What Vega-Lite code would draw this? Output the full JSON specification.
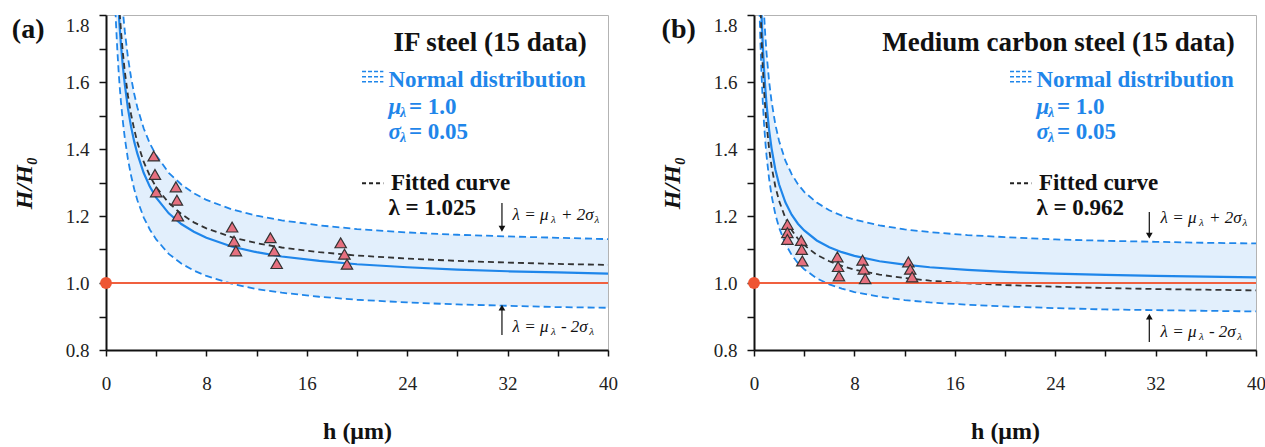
{
  "$schema": "https://vega.github.io/schema/vega-lite/v6.json",
  "background": "white",
  "padding": {"left": 11, "top": 13, "right": 5, "bottom": 2},
  "bounds": "flush",
  "spacing": 146,
  "config": {
    "font": "Liberation Serif, Times New Roman, serif",
    "text": {"font": "Liberation Serif, Times New Roman, serif"},
    "view": {"stroke": "#b3b3b3", "strokeWidth": 1},
    "axis": {
      "domainColor": "#111", "domainWidth": 2, "tickColor": "#111", "tickWidth": 1.5,
      "labelFont": "Liberation Serif, Times New Roman, serif", "labelFontSize": 19, "labelColor": "#222",
      "titleFont": "Liberation Serif, Times New Roman, serif", "titleFontSize": 24, "titleFontWeight": "bold", "titleColor": "#111",
      "grid": false, "labelOverlap": false
    }
  },
  "datasets": {
    "curves": [
      {"p":"a","h":0.6,"lo":1.978,"mu":2.198,"hi":2.418,"fit":2.253},
      {"p":"a","h":0.7,"lo":1.863,"mu":2.070,"hi":2.277,"fit":2.122},
      {"p":"a","h":0.8,"lo":1.772,"mu":1.969,"hi":2.165,"fit":2.018},
      {"p":"a","h":0.9,"lo":1.697,"mu":1.886,"hi":2.074,"fit":1.933},
      {"p":"a","h":1.0,"lo":1.635,"mu":1.817,"hi":1.998,"fit":1.862},
      {"p":"a","h":1.1,"lo":1.582,"mu":1.758,"hi":1.934,"fit":1.802},
      {"p":"a","h":1.2,"lo":1.537,"mu":1.708,"hi":1.879,"fit":1.750},
      {"p":"a","h":1.35,"lo":1.480,"mu":1.644,"hi":1.809,"fit":1.685},
      {"p":"a","h":1.5,"lo":1.432,"mu":1.592,"hi":1.751,"fit":1.631},
      {"p":"a","h":1.75,"lo":1.369,"mu":1.521,"hi":1.673,"fit":1.559},
      {"p":"a","h":2.0,"lo":1.320,"mu":1.466,"hi":1.613,"fit":1.503},
      {"p":"a","h":2.25,"lo":1.280,"mu":1.422,"hi":1.564,"fit":1.458},
      {"p":"a","h":2.5,"lo":1.247,"mu":1.386,"hi":1.524,"fit":1.420},
      {"p":"a","h":3.0,"lo":1.196,"mu":1.329,"hi":1.462,"fit":1.362},
      {"p":"a","h":3.5,"lo":1.159,"mu":1.287,"hi":1.416,"fit":1.319},
      {"p":"a","h":4,"lo":1.130,"mu":1.255,"hi":1.381,"fit":1.286},
      {"p":"a","h":5,"lo":1.087,"mu":1.208,"hi":1.329,"fit":1.239},
      {"p":"a","h":6,"lo":1.058,"mu":1.176,"hi":1.294,"fit":1.206},
      {"p":"a","h":7,"lo":1.037,"mu":1.153,"hi":1.268,"fit":1.181},
      {"p":"a","h":8,"lo":1.021,"mu":1.135,"hi":1.248,"fit":1.163},
      {"p":"a","h":10,"lo":0.998,"mu":1.109,"hi":1.220,"fit":1.137},
      {"p":"a","h":12,"lo":0.982,"mu":1.092,"hi":1.201,"fit":1.119},
      {"p":"a","h":14,"lo":0.971,"mu":1.079,"hi":1.187,"fit":1.106},
      {"p":"a","h":17,"lo":0.959,"mu":1.066,"hi":1.172,"fit":1.092},
      {"p":"a","h":20,"lo":0.950,"mu":1.056,"hi":1.161,"fit":1.082},
      {"p":"a","h":24,"lo":0.942,"mu":1.047,"hi":1.151,"fit":1.073},
      {"p":"a","h":28,"lo":0.936,"mu":1.040,"hi":1.144,"fit":1.066},
      {"p":"a","h":32,"lo":0.932,"mu":1.035,"hi":1.139,"fit":1.061},
      {"p":"a","h":36,"lo":0.928,"mu":1.032,"hi":1.135,"fit":1.057},
      {"p":"a","h":40,"lo":0.926,"mu":1.028,"hi":1.131,"fit":1.054},
      {"p":"b","h":0.3,"lo":2.111,"mu":2.345,"hi":2.580,"fit":2.256},
      {"p":"b","h":0.35,"lo":1.984,"mu":2.204,"hi":2.424,"fit":2.120},
      {"p":"b","h":0.4,"lo":1.883,"mu":2.092,"hi":2.301,"fit":2.012},
      {"p":"b","h":0.45,"lo":1.800,"mu":2.000,"hi":2.200,"fit":1.924},
      {"p":"b","h":0.5,"lo":1.731,"mu":1.924,"hi":2.116,"fit":1.850},
      {"p":"b","h":0.6,"lo":1.623,"mu":1.803,"hi":1.983,"fit":1.734},
      {"p":"b","h":0.7,"lo":1.540,"mu":1.711,"hi":1.882,"fit":1.646},
      {"p":"b","h":0.8,"lo":1.475,"mu":1.639,"hi":1.803,"fit":1.577},
      {"p":"b","h":0.9,"lo":1.423,"mu":1.581,"hi":1.739,"fit":1.521},
      {"p":"b","h":1.0,"lo":1.380,"mu":1.533,"hi":1.686,"fit":1.475},
      {"p":"b","h":1.2,"lo":1.312,"mu":1.458,"hi":1.603,"fit":1.402},
      {"p":"b","h":1.4,"lo":1.261,"mu":1.402,"hi":1.542,"fit":1.348},
      {"p":"b","h":1.7,"lo":1.205,"mu":1.339,"hi":1.473,"fit":1.288},
      {"p":"b","h":2.0,"lo":1.165,"mu":1.294,"hi":1.424,"fit":1.245},
      {"p":"b","h":2.5,"lo":1.117,"mu":1.241,"hi":1.365,"fit":1.194},
      {"p":"b","h":3.0,"lo":1.084,"mu":1.204,"hi":1.325,"fit":1.158},
      {"p":"b","h":3.5,"lo":1.059,"mu":1.177,"hi":1.295,"fit":1.132},
      {"p":"b","h":4,"lo":1.041,"mu":1.157,"hi":1.272,"fit":1.113},
      {"p":"b","h":5,"lo":1.014,"mu":1.127,"hi":1.240,"fit":1.084},
      {"p":"b","h":6,"lo":0.996,"mu":1.107,"hi":1.217,"fit":1.065},
      {"p":"b","h":7,"lo":0.983,"mu":1.092,"hi":1.201,"fit":1.051},
      {"p":"b","h":8,"lo":0.973,"mu":1.081,"hi":1.189,"fit":1.040},
      {"p":"b","h":10,"lo":0.959,"mu":1.065,"hi":1.172,"fit":1.025},
      {"p":"b","h":12,"lo":0.949,"mu":1.055,"hi":1.160,"fit":1.015},
      {"p":"b","h":14,"lo":0.942,"mu":1.047,"hi":1.152,"fit":1.007},
      {"p":"b","h":17,"lo":0.935,"mu":1.039,"hi":1.143,"fit":0.999},
      {"p":"b","h":20,"lo":0.930,"mu":1.033,"hi":1.137,"fit":0.994},
      {"p":"b","h":24,"lo":0.925,"mu":1.028,"hi":1.130,"fit":0.989},
      {"p":"b","h":28,"lo":0.921,"mu":1.024,"hi":1.126,"fit":0.985},
      {"p":"b","h":32,"lo":0.919,"mu":1.021,"hi":1.123,"fit":0.982},
      {"p":"b","h":36,"lo":0.917,"mu":1.019,"hi":1.120,"fit":0.980},
      {"p":"b","h":40,"lo":0.915,"mu":1.017,"hi":1.118,"fit":0.978}
    ],
    "pts": [
      {"p":"a","h":3.8,"v":1.379},{"p":"a","h":3.9,"v":1.324},{"p":"a","h":4.0,"v":1.272},
      {"p":"a","h":5.57,"v":1.287},{"p":"a","h":5.65,"v":1.247},{"p":"a","h":5.73,"v":1.2},
      {"p":"a","h":10.05,"v":1.167},{"p":"a","h":10.2,"v":1.125},{"p":"a","h":10.35,"v":1.096},
      {"p":"a","h":13.1,"v":1.135},{"p":"a","h":13.4,"v":1.096},{"p":"a","h":13.6,"v":1.058},
      {"p":"a","h":18.7,"v":1.12},{"p":"a","h":19.0,"v":1.086},{"p":"a","h":19.2,"v":1.056},
      {"p":"b","h":2.66,"v":1.175},{"p":"b","h":2.66,"v":1.150},{"p":"b","h":2.66,"v":1.130},
      {"p":"b","h":3.76,"v":1.127},{"p":"b","h":3.8,"v":1.1},{"p":"b","h":3.85,"v":1.066},
      {"p":"b","h":6.64,"v":1.078},{"p":"b","h":6.7,"v":1.049},{"p":"b","h":6.77,"v":1.021},
      {"p":"b","h":8.65,"v":1.068},{"p":"b","h":8.75,"v":1.041},{"p":"b","h":8.86,"v":1.013},
      {"p":"b","h":12.3,"v":1.063},{"p":"b","h":12.45,"v":1.041},{"p":"b","h":12.6,"v":1.018}
    ],
    "ref": [
      {"p":"a","h":0,"h2":40,"v":1.0},
      {"p":"b","h":0,"h2":40,"v":1.0}
    ],
    "icons": [
      {"p":"a","k":"blue","h":20.4,"h2":22.1,"v":1.631},
      {"p":"a","k":"blue","h":20.4,"h2":22.1,"v":1.616},
      {"p":"a","k":"blue","h":20.4,"h2":22.1,"v":1.601},
      {"p":"a","k":"black","h":20.4,"h2":22.1,"v":1.298},
      {"p":"b","k":"blue","h":20.4,"h2":22.1,"v":1.631},
      {"p":"b","k":"blue","h":20.4,"h2":22.1,"v":1.616},
      {"p":"b","k":"blue","h":20.4,"h2":22.1,"v":1.601},
      {"p":"b","k":"black","h":20.4,"h2":22.1,"v":1.298}
    ],
    "arrows": [
      {"p":"a","h":31.55,"v":1.239,"v2":1.162},
      {"p":"a","h":31.55,"v":0.845,"v2":0.9265},
      {"p":"b","h":31.5,"v":1.212,"v2":1.1415},
      {"p":"b","h":31.5,"v":0.824,"v2":0.8995}
    ],
    "heads": [
      {"p":"a","dir":"down","h":31.55,"v":1.162},
      {"p":"a","dir":"up","h":31.55,"v":0.9265},
      {"p":"b","dir":"down","h":31.5,"v":1.1415},
      {"p":"b","dir":"up","h":31.5,"v":0.8995}
    ],
    "ann": [
      {"p":"a","k":"label","h":-6.2,"v":1.755,"t":"(a)"},
      {"p":"a","k":"title","h":38.3,"v":1.7155,"t":"IF steel (15 data)"},
      {"p":"a","k":"blue","h":22.5,"v":1.605,"t":"Normal distribution"},
      {"p":"a","k":"blueI","h":22.5,"v":1.525,"t":"μ"},
      {"p":"a","k":"blueSub","h":23.43,"v":1.507,"t":"λ"},
      {"p":"a","k":"blue","h":24.14,"v":1.525,"t":"= 1.0"},
      {"p":"a","k":"blueI","h":22.5,"v":1.452,"t":"σ"},
      {"p":"a","k":"blueSub","h":23.43,"v":1.434,"t":"λ"},
      {"p":"a","k":"blue","h":24.14,"v":1.452,"t":"= 0.05"},
      {"p":"a","k":"black","h":22.7,"v":1.298,"t":"Fitted curve"},
      {"p":"a","k":"black","h":22.5,"v":1.224,"t":"λ = 1.025"},
      {"p":"a","k":"ann","h":32.4,"v":1.203,"t":"λ = μ"},
      {"p":"a","k":"annSub","h":35.46,"v":1.188,"t":"λ"},
      {"p":"a","k":"ann","h":36.25,"v":1.203,"t":"+ 2σ"},
      {"p":"a","k":"annSub","h":38.93,"v":1.188,"t":"λ"},
      {"p":"a","k":"ann","h":32.4,"v":0.869,"t":"λ = μ"},
      {"p":"a","k":"annSub","h":35.46,"v":0.854,"t":"λ"},
      {"p":"a","k":"ann","h":36.25,"v":0.869,"t":"- 2σ"},
      {"p":"a","k":"annSub","h":38.5,"v":0.854,"t":"λ"},
      {"p":"b","k":"label","h":-6.0,"v":1.755,"t":"(b)"},
      {"p":"b","k":"title","h":38.3,"v":1.7155,"t":"Medium carbon steel (15 data)"},
      {"p":"b","k":"blue","h":22.5,"v":1.605,"t":"Normal distribution"},
      {"p":"b","k":"blueI","h":22.5,"v":1.525,"t":"μ"},
      {"p":"b","k":"blueSub","h":23.43,"v":1.507,"t":"λ"},
      {"p":"b","k":"blue","h":24.14,"v":1.525,"t":"= 1.0"},
      {"p":"b","k":"blueI","h":22.5,"v":1.452,"t":"σ"},
      {"p":"b","k":"blueSub","h":23.43,"v":1.434,"t":"λ"},
      {"p":"b","k":"blue","h":24.14,"v":1.452,"t":"= 0.05"},
      {"p":"b","k":"black","h":22.7,"v":1.298,"t":"Fitted curve"},
      {"p":"b","k":"black","h":22.5,"v":1.223,"t":"λ = 0.962"},
      {"p":"b","k":"ann","h":32.4,"v":1.194,"t":"λ = μ"},
      {"p":"b","k":"annSub","h":35.46,"v":1.179,"t":"λ"},
      {"p":"b","k":"ann","h":36.25,"v":1.194,"t":"+ 2σ"},
      {"p":"b","k":"annSub","h":38.93,"v":1.179,"t":"λ"},
      {"p":"b","k":"ann","h":32.4,"v":0.854,"t":"λ = μ"},
      {"p":"b","k":"annSub","h":35.46,"v":0.839,"t":"λ"},
      {"p":"b","k":"ann","h":36.25,"v":0.854,"t":"- 2σ"},
      {"p":"b","k":"annSub","h":38.5,"v":0.839,"t":"λ"}
    ]
  },
  "hconcat": [
    {
      "width": 502, "height": 335,
      "encoding": {
        "x": {"field": "h", "type": "quantitative", "scale": {"domain": [0, 40], "nice": false}, "title": "h (μm)",
          "axis": {"values": [0,4,8,12,16,20,24,28,32,36,40], "labelExpr": "datum.value % 8 === 0 ? datum.label : ''", "labelFlush": false, "tickSize": 6, "labelPadding": 18, "titlePadding": 26}},
        "y": {"field": "v", "type": "quantitative", "scale": {"domain": [0.8, 1.8], "nice": false, "zero": false}, "title": "H/H₀",
          "axis": {"values": [0.8,0.9,1.0,1.1,1.2,1.3,1.4,1.5,1.6,1.7,1.8], "labelExpr": "round(datum.value*10) % 2 === 0 ? format(datum.value, '.1f') : ''", "tickSize": 7, "labelPadding": 10, "titlePadding": 29, "titleFontStyle": "italic",
            "labelOffset": {"condition": {"test": "datum.value > 1.75", "value": 10}, "value": 0}}}
      },
      "layer": [
        {"data": {"name": "curves"}, "transform": [{"filter": "datum.p == 'a'"}], "mark": {"type": "area", "clip": true, "fill": "#e2effc", "opacity": 1},
          "encoding": {"y": {"field": "lo", "type": "quantitative", "scale": {"domain": [0.8, 1.8], "nice": false, "zero": false}, "title": "H/H₀"}, "y2": {"field": "hi"}}},
        {"data": {"name": "curves"}, "transform": [{"filter": "datum.p == 'a'"}], "mark": {"type": "line", "clip": true, "stroke": "#1f86ea", "strokeWidth": 1.8, "strokeDash": [7, 4]},
          "encoding": {"y": {"field": "lo", "type": "quantitative", "scale": {"domain": [0.8, 1.8], "nice": false, "zero": false}, "title": "H/H₀"}}},
        {"data": {"name": "curves"}, "transform": [{"filter": "datum.p == 'a'"}], "mark": {"type": "line", "clip": true, "stroke": "#1f86ea", "strokeWidth": 1.8, "strokeDash": [7, 4]},
          "encoding": {"y": {"field": "hi", "type": "quantitative", "scale": {"domain": [0.8, 1.8], "nice": false, "zero": false}, "title": "H/H₀"}}},
        {"data": {"name": "curves"}, "transform": [{"filter": "datum.p == 'a'"}], "mark": {"type": "line", "clip": true, "stroke": "#1f86ea", "strokeWidth": 2.2},
          "encoding": {"y": {"field": "mu", "type": "quantitative", "scale": {"domain": [0.8, 1.8], "nice": false, "zero": false}, "title": "H/H₀"}}},
        {"data": {"name": "curves"}, "transform": [{"filter": "datum.p == 'a'"}], "mark": {"type": "line", "clip": true, "stroke": "#333333", "strokeWidth": 1.8, "strokeDash": [6, 4]},
          "encoding": {"y": {"field": "fit", "type": "quantitative", "scale": {"domain": [0.8, 1.8], "nice": false, "zero": false}, "title": "H/H₀"}}},
        {"data": {"name": "ref"}, "transform": [{"filter": "datum.p == 'a'"}], "mark": {"type": "rule", "stroke": "#f0603f", "strokeWidth": 2},
          "encoding": {"x2": {"field": "h2"}}},
        {"data": {"name": "pts"}, "transform": [{"filter": "datum.p == 'a'"}], "mark": {"type": "point", "shape": "triangle-up", "filled": true, "size": 130, "fill": "#e6707f", "stroke": "#333333", "strokeWidth": 1.2, "opacity": 1}},
        {"data": {"name": "ref"}, "transform": [{"filter": "datum.p == 'a'"}], "mark": {"type": "point", "shape": "circle", "filled": true, "size": 140, "fill": "#ee5533", "opacity": 1}},
        {"data": {"name": "icons"}, "transform": [{"filter": "datum.p == 'a' && datum.k == 'blue'"}], "mark": {"type": "rule", "stroke": "#1f86ea", "strokeWidth": 1.5, "strokeDash": [4, 2]},
          "encoding": {"x2": {"field": "h2"}}},
        {"data": {"name": "icons"}, "transform": [{"filter": "datum.p == 'a' && datum.k == 'black'"}], "mark": {"type": "rule", "stroke": "#222222", "strokeWidth": 2, "strokeDash": [4, 3]},
          "encoding": {"x2": {"field": "h2"}}},
        {"data": {"name": "arrows"}, "transform": [{"filter": "datum.p == 'a'"}], "mark": {"type": "rule", "stroke": "#222222", "strokeWidth": 1.3},
          "encoding": {"y2": {"field": "v2"}}},
        {"data": {"name": "heads"}, "transform": [{"filter": "datum.p == 'a' && datum.dir == 'down'"}], "mark": {"type": "point", "shape": "triangle-down", "filled": true, "size": 45, "fill": "#111111", "opacity": 1}},
        {"data": {"name": "heads"}, "transform": [{"filter": "datum.p == 'a' && datum.dir == 'up'"}], "mark": {"type": "point", "shape": "triangle-up", "filled": true, "size": 45, "fill": "#111111", "opacity": 1}},
        {"data": {"name": "ann"}, "transform": [{"filter": "datum.p == 'a' && datum.k == 'label'"}], "mark": {"type": "text", "font": "Liberation Serif, Times New Roman, serif", "align": "center", "baseline": "middle", "fontSize": 28, "fontWeight": "bold", "fill": "#111111"}, "encoding": {"text": {"field": "t"}}},
        {"data": {"name": "ann"}, "transform": [{"filter": "datum.p == 'a' && datum.k == 'title'"}], "mark": {"type": "text", "font": "Liberation Serif, Times New Roman, serif", "align": "right", "baseline": "middle", "fontSize": 27, "fontWeight": "bold", "fill": "#111111"}, "encoding": {"text": {"field": "t"}}},
        {"data": {"name": "ann"}, "transform": [{"filter": "datum.p == 'a' && datum.k == 'blue'"}], "mark": {"type": "text", "font": "Liberation Serif, Times New Roman, serif", "align": "left", "baseline": "middle", "fontSize": 23, "fontWeight": "bold", "fill": "#1f86ea"}, "encoding": {"text": {"field": "t"}}},
        {"data": {"name": "ann"}, "transform": [{"filter": "datum.p == 'a' && datum.k == 'blueI'"}], "mark": {"type": "text", "font": "Liberation Serif, Times New Roman, serif", "align": "left", "baseline": "middle", "fontSize": 23, "fontWeight": "bold", "fontStyle": "italic", "fill": "#1f86ea"}, "encoding": {"text": {"field": "t"}}},
        {"data": {"name": "ann"}, "transform": [{"filter": "datum.p == 'a' && datum.k == 'blueSub'"}], "mark": {"type": "text", "font": "Liberation Serif, Times New Roman, serif", "align": "left", "baseline": "middle", "fontSize": 14, "fontWeight": "bold", "fontStyle": "italic", "fill": "#1f86ea"}, "encoding": {"text": {"field": "t"}}},
        {"data": {"name": "ann"}, "transform": [{"filter": "datum.p == 'a' && datum.k == 'black'"}], "mark": {"type": "text", "font": "Liberation Serif, Times New Roman, serif", "align": "left", "baseline": "middle", "fontSize": 23, "fontWeight": "bold", "fill": "#111111"}, "encoding": {"text": {"field": "t"}}},
        {"data": {"name": "ann"}, "transform": [{"filter": "datum.p == 'a' && datum.k == 'ann'"}], "mark": {"type": "text", "font": "Liberation Serif, Times New Roman, serif", "align": "left", "baseline": "middle", "fontSize": 17, "fontStyle": "italic", "fill": "#111111"}, "encoding": {"text": {"field": "t"}}},
        {"data": {"name": "ann"}, "transform": [{"filter": "datum.p == 'a' && datum.k == 'annSub'"}], "mark": {"type": "text", "font": "Liberation Serif, Times New Roman, serif", "align": "left", "baseline": "middle", "fontSize": 11, "fontStyle": "italic", "fill": "#111111"}, "encoding": {"text": {"field": "t"}}}
      ]
    },
    {
      "width": 502, "height": 335,
      "encoding": {
        "x": {"field": "h", "type": "quantitative", "scale": {"domain": [0, 40], "nice": false}, "title": "h (μm)",
          "axis": {"values": [0,4,8,12,16,20,24,28,32,36,40], "labelExpr": "datum.value % 8 === 0 ? datum.label : ''", "labelFlush": false, "tickSize": 6, "labelPadding": 18, "titlePadding": 26}},
        "y": {"field": "v", "type": "quantitative", "scale": {"domain": [0.8, 1.8], "nice": false, "zero": false}, "title": "H/H₀",
          "axis": {"values": [0.8,0.9,1.0,1.1,1.2,1.3,1.4,1.5,1.6,1.7,1.8], "labelExpr": "round(datum.value*10) % 2 === 0 ? format(datum.value, '.1f') : ''", "tickSize": 7, "labelPadding": 10, "titlePadding": 29, "titleFontStyle": "italic",
            "labelOffset": {"condition": {"test": "datum.value > 1.75", "value": 10}, "value": 0}}}
      },
      "layer": [
        {"data": {"name": "curves"}, "transform": [{"filter": "datum.p == 'b'"}], "mark": {"type": "area", "clip": true, "fill": "#e2effc", "opacity": 1},
          "encoding": {"y": {"field": "lo", "type": "quantitative", "scale": {"domain": [0.8, 1.8], "nice": false, "zero": false}, "title": "H/H₀"}, "y2": {"field": "hi"}}},
        {"data": {"name": "curves"}, "transform": [{"filter": "datum.p == 'b'"}], "mark": {"type": "line", "clip": true, "stroke": "#1f86ea", "strokeWidth": 1.8, "strokeDash": [7, 4]},
          "encoding": {"y": {"field": "lo", "type": "quantitative", "scale": {"domain": [0.8, 1.8], "nice": false, "zero": false}, "title": "H/H₀"}}},
        {"data": {"name": "curves"}, "transform": [{"filter": "datum.p == 'b'"}], "mark": {"type": "line", "clip": true, "stroke": "#1f86ea", "strokeWidth": 1.8, "strokeDash": [7, 4]},
          "encoding": {"y": {"field": "hi", "type": "quantitative", "scale": {"domain": [0.8, 1.8], "nice": false, "zero": false}, "title": "H/H₀"}}},
        {"data": {"name": "curves"}, "transform": [{"filter": "datum.p == 'b'"}], "mark": {"type": "line", "clip": true, "stroke": "#1f86ea", "strokeWidth": 2.2},
          "encoding": {"y": {"field": "mu", "type": "quantitative", "scale": {"domain": [0.8, 1.8], "nice": false, "zero": false}, "title": "H/H₀"}}},
        {"data": {"name": "curves"}, "transform": [{"filter": "datum.p == 'b'"}], "mark": {"type": "line", "clip": true, "stroke": "#333333", "strokeWidth": 1.8, "strokeDash": [6, 4]},
          "encoding": {"y": {"field": "fit", "type": "quantitative", "scale": {"domain": [0.8, 1.8], "nice": false, "zero": false}, "title": "H/H₀"}}},
        {"data": {"name": "ref"}, "transform": [{"filter": "datum.p == 'b'"}], "mark": {"type": "rule", "stroke": "#f0603f", "strokeWidth": 2},
          "encoding": {"x2": {"field": "h2"}}},
        {"data": {"name": "pts"}, "transform": [{"filter": "datum.p == 'b'"}], "mark": {"type": "point", "shape": "triangle-up", "filled": true, "size": 130, "fill": "#e6707f", "stroke": "#333333", "strokeWidth": 1.2, "opacity": 1}},
        {"data": {"name": "ref"}, "transform": [{"filter": "datum.p == 'b'"}], "mark": {"type": "point", "shape": "circle", "filled": true, "size": 140, "fill": "#ee5533", "opacity": 1}},
        {"data": {"name": "icons"}, "transform": [{"filter": "datum.p == 'b' && datum.k == 'blue'"}], "mark": {"type": "rule", "stroke": "#1f86ea", "strokeWidth": 1.5, "strokeDash": [4, 2]},
          "encoding": {"x2": {"field": "h2"}}},
        {"data": {"name": "icons"}, "transform": [{"filter": "datum.p == 'b' && datum.k == 'black'"}], "mark": {"type": "rule", "stroke": "#222222", "strokeWidth": 2, "strokeDash": [4, 3]},
          "encoding": {"x2": {"field": "h2"}}},
        {"data": {"name": "arrows"}, "transform": [{"filter": "datum.p == 'b'"}], "mark": {"type": "rule", "stroke": "#222222", "strokeWidth": 1.3},
          "encoding": {"y2": {"field": "v2"}}},
        {"data": {"name": "heads"}, "transform": [{"filter": "datum.p == 'b' && datum.dir == 'down'"}], "mark": {"type": "point", "shape": "triangle-down", "filled": true, "size": 45, "fill": "#111111", "opacity": 1}},
        {"data": {"name": "heads"}, "transform": [{"filter": "datum.p == 'b' && datum.dir == 'up'"}], "mark": {"type": "point", "shape": "triangle-up", "filled": true, "size": 45, "fill": "#111111", "opacity": 1}},
        {"data": {"name": "ann"}, "transform": [{"filter": "datum.p == 'b' && datum.k == 'label'"}], "mark": {"type": "text", "font": "Liberation Serif, Times New Roman, serif", "align": "center", "baseline": "middle", "fontSize": 28, "fontWeight": "bold", "fill": "#111111"}, "encoding": {"text": {"field": "t"}}},
        {"data": {"name": "ann"}, "transform": [{"filter": "datum.p == 'b' && datum.k == 'title'"}], "mark": {"type": "text", "font": "Liberation Serif, Times New Roman, serif", "align": "right", "baseline": "middle", "fontSize": 27, "fontWeight": "bold", "fill": "#111111"}, "encoding": {"text": {"field": "t"}}},
        {"data": {"name": "ann"}, "transform": [{"filter": "datum.p == 'b' && datum.k == 'blue'"}], "mark": {"type": "text", "font": "Liberation Serif, Times New Roman, serif", "align": "left", "baseline": "middle", "fontSize": 23, "fontWeight": "bold", "fill": "#1f86ea"}, "encoding": {"text": {"field": "t"}}},
        {"data": {"name": "ann"}, "transform": [{"filter": "datum.p == 'b' && datum.k == 'blueI'"}], "mark": {"type": "text", "font": "Liberation Serif, Times New Roman, serif", "align": "left", "baseline": "middle", "fontSize": 23, "fontWeight": "bold", "fontStyle": "italic", "fill": "#1f86ea"}, "encoding": {"text": {"field": "t"}}},
        {"data": {"name": "ann"}, "transform": [{"filter": "datum.p == 'b' && datum.k == 'blueSub'"}], "mark": {"type": "text", "font": "Liberation Serif, Times New Roman, serif", "align": "left", "baseline": "middle", "fontSize": 14, "fontWeight": "bold", "fontStyle": "italic", "fill": "#1f86ea"}, "encoding": {"text": {"field": "t"}}},
        {"data": {"name": "ann"}, "transform": [{"filter": "datum.p == 'b' && datum.k == 'black'"}], "mark": {"type": "text", "font": "Liberation Serif, Times New Roman, serif", "align": "left", "baseline": "middle", "fontSize": 23, "fontWeight": "bold", "fill": "#111111"}, "encoding": {"text": {"field": "t"}}},
        {"data": {"name": "ann"}, "transform": [{"filter": "datum.p == 'b' && datum.k == 'ann'"}], "mark": {"type": "text", "font": "Liberation Serif, Times New Roman, serif", "align": "left", "baseline": "middle", "fontSize": 17, "fontStyle": "italic", "fill": "#111111"}, "encoding": {"text": {"field": "t"}}},
        {"data": {"name": "ann"}, "transform": [{"filter": "datum.p == 'b' && datum.k == 'annSub'"}], "mark": {"type": "text", "font": "Liberation Serif, Times New Roman, serif", "align": "left", "baseline": "middle", "fontSize": 11, "fontStyle": "italic", "fill": "#111111"}, "encoding": {"text": {"field": "t"}}}
      ]
    }
  ]
}
